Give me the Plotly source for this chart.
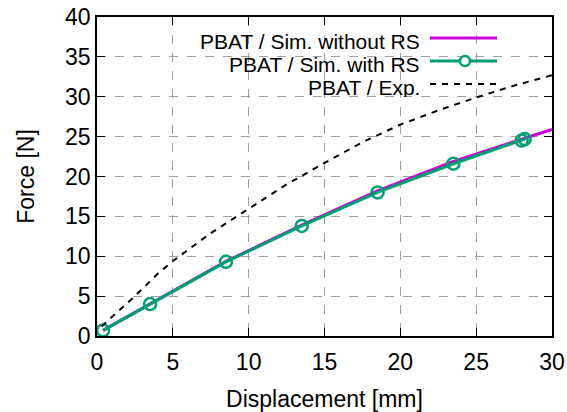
import plotly.graph_objects as go

# ---- data ----
sim_norm_x = [0.4, 3.5, 8.5, 13.5, 18.5, 23.5, 28.2, 30.0]
sim_norm_y = [0.7, 4.05, 9.35, 13.9, 18.2, 21.9, 24.8, 25.9]

sim_rs_x = [0.4, 3.5, 8.5, 13.5, 18.5, 23.5, 28.0, 28.2]
sim_rs_y = [0.7, 4.0, 9.3, 13.8, 18.0, 21.6, 24.5, 24.7]

exp_x = [0.3, 1.0, 2.5, 4.0, 5.0, 7.5, 10.0, 12.5, 15.0, 17.5, 20.0, 22.5, 25.0, 27.5, 30.0]
exp_y = [1.2, 2.4, 5.0, 7.8, 9.4, 12.9, 16.0, 19.0, 21.7, 24.3, 26.5, 28.3, 29.9, 31.4, 32.7]

x_ticks = [0, 5, 10, 15, 20, 25, 30]
y_ticks = [0, 5, 10, 15, 20, 25, 30, 35, 40]

labels = ["PBAT / Sim. without RS", "PBAT / Sim. with RS", "PBAT / Exp."]

MAG = "#cc00dd"
GRN = "#009e73"
FONT = "Liberation Sans, Arial, sans-serif"

fig = go.Figure()
fig.add_trace(go.Scatter(x=sim_norm_x, y=sim_norm_y, mode="lines",
                         line=dict(color=MAG, width=3), name=labels[0], showlegend=False))
fig.add_trace(go.Scatter(x=sim_rs_x, y=sim_rs_y, mode="lines+markers",
                         line=dict(color=GRN, width=3),
                         marker=dict(symbol="circle-open", size=12, color=GRN, line=dict(width=2.5)),
                         name=labels[1], showlegend=False))
fig.add_trace(go.Scatter(x=exp_x, y=exp_y, mode="lines",
                         line=dict(color="black", width=2, dash="6px,6px"),
                         name=labels[2], showlegend=False))

# ---- manual legend (gnuplot style: text left, sample right) ----
L, R, T, B = 97, 552, 17, 336
def px(x): return (x - L) / (R - L)
def py(y): return (B - y) / (B - T)

rows = [38, 61, 84]
for i, (lab, yy) in enumerate(zip(labels, rows)):
    fig.add_annotation(x=px(421), y=py(yy + 3), xref="paper", yref="paper",
                       text=lab, showarrow=False, xanchor="right", yanchor="middle",
                       height=20, borderpad=0,
                       font=dict(size=21, color="black", family=FONT))
fig.add_shape(type="line", xref="paper", yref="paper", x0=px(430), x1=px(497),
              y0=py(rows[0]), y1=py(rows[0]), line=dict(color=MAG, width=3))
fig.add_shape(type="line", xref="paper", yref="paper", x0=px(430), x1=px(497),
              y0=py(rows[1]), y1=py(rows[1]), line=dict(color=GRN, width=3))
fig.add_shape(type="circle", xref="paper", yref="paper", xsizemode="pixel", ysizemode="pixel",
              xanchor=px(465), yanchor=py(rows[1]), x0=-5, x1=5, y0=-5, y1=5,
              line=dict(color=GRN, width=2.5), fillcolor="white")
fig.add_shape(type="line", xref="paper", yref="paper", x0=px(430), x1=px(497),
              y0=py(rows[2]), y1=py(rows[2]), line=dict(color="black", width=2, dash="6px,6px"))

axis_common = dict(showline=True, linecolor="black", linewidth=1.5, mirror="ticks",
                   ticks="inside", ticklen=8, tickwidth=1, tickcolor="black",
                   showgrid=True, gridcolor="#a0a0a0", gridwidth=1, griddash="dash",
                   zeroline=False, automargin=False,
                   tickfont=dict(size=23, color="black", family=FONT))

fig.update_layout(
    width=567, height=412,
    margin=dict(l=L, r=567 - R, t=T, b=412 - B),
    paper_bgcolor="white", plot_bgcolor="white",
    font=dict(family=FONT, size=23, color="black"),
    xaxis=dict(range=[0, 30], tickvals=x_ticks, ticktext=[str(v) for v in x_ticks],
               ticklabelstandoff=5,
               title=dict(text="Displacement [mm]", font=dict(size=23), standoff=22),
               **axis_common),
    yaxis=dict(range=[0, 40], tickvals=y_ticks, ticktext=[str(v) for v in y_ticks],
               title=dict(text="Force [N]", font=dict(size=23), standoff=24),
               **axis_common),
)

fig.write_html("out.html", config={"displayModeBar": False},
               post_script="document.body.style.margin='0';document.body.style.overflow='hidden';")
